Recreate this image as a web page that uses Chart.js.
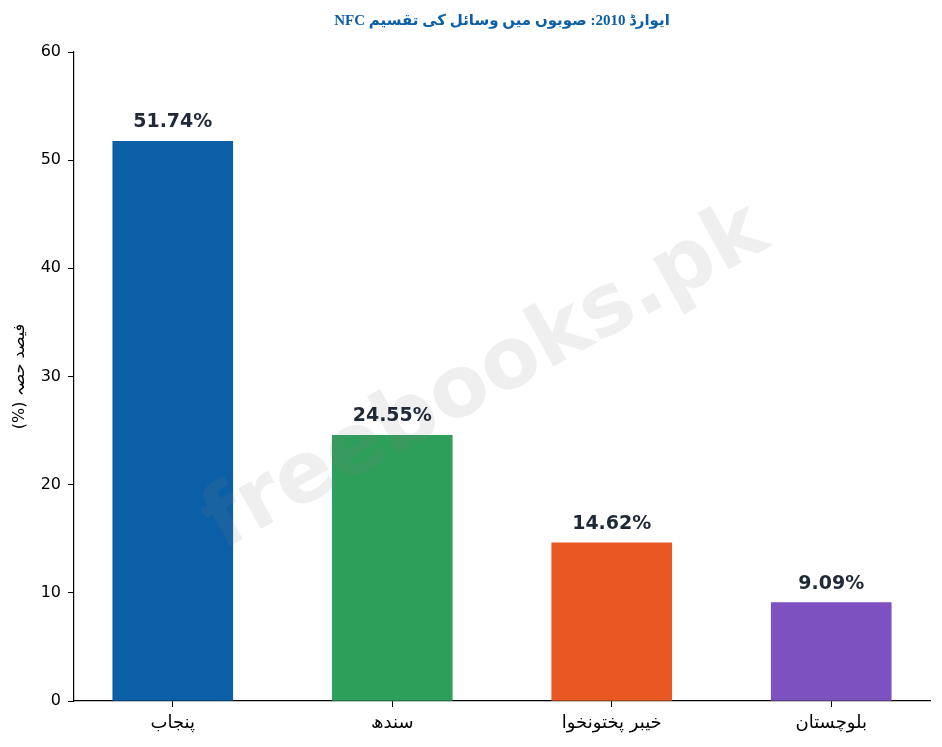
<!DOCTYPE html>
<html>
<head>
<meta charset="utf-8">
<script src="https://cdn.jsdelivr.net/npm/chart.js@4.4.1/dist/chart.umd.min.js"></script>
<style>
    html, body { margin: 0; padding: 0; background: #ffffff; }
    #wrap { width: 942px; height: 747px; }
</style>
</head>
<body>
<div id="wrap"><canvas id="nfcChart" width="942" height="747"></canvas></div>
<script>
// ============================================
// NFC AWARD 2010 - provincial shares
// ============================================

// Chart data
const provinces = ['پنجاب', 'سندھ', 'خیبر پختونخوا', 'بلوچستان'];
const shares = [51.74, 24.55, 14.62, 9.09];
const barColors = ['#0b5fa6', '#2e9e5b', '#e75822', '#7b52c0'];
const yTicks = [0, 10, 20, 30, 40, 50, 60];

const titleText = 'NFC ایوارڈ 2010: صوبوں میں وسائل کی تقسیم';
const yTitleText = '\u202Bفیصد حصہ (%)\u202C';
const watermarkText = 'freebooks.pk';

// Watermark + value labels on top of the bars
const overlayPlugin = {
    id: 'overlay',
    afterDatasetsDraw(chart) {
        const ctx = chart.ctx;
        const area = chart.chartArea;

        // watermark
        ctx.save();
        ctx.translate(area.left + 423, area.top + 346);
        ctx.rotate(-29 * Math.PI / 180);
        ctx.font = 'bold 85px "DejaVu Sans"';
        ctx.fillStyle = 'rgba(128, 128, 128, 0.13)';
        ctx.textAlign = 'center';
        ctx.textBaseline = 'alphabetic';
        ctx.fillText(watermarkText, 0, 0);
        ctx.restore();

        // value labels
        const meta = chart.getDatasetMeta(0);
        ctx.save();
        ctx.font = 'bold 19px "DejaVu Sans"';
        ctx.fillStyle = '#1f2937';
        ctx.textAlign = 'center';
        ctx.textBaseline = 'alphabetic';
        meta.data.forEach((bar, i) => {
            ctx.fillText(shares[i].toFixed(2) + '%', bar.x, bar.y - 14);
        });
        ctx.restore();
    }
};

const nfcChart = new Chart(document.getElementById('nfcChart'), {
    type: 'bar',
    data: {
        datasets: [{
            data: shares.map((v, i) => ({ x: i, y: v })),
            backgroundColor: barColors,
            borderWidth: 0,
            barThickness: 120
        }]
    },
    options: {
        responsive: false,
        animation: false,
        devicePixelRatio: 1,
        layout: {
            padding: { left: 0, right: 12, top: 0, bottom: 0 }
        },
        plugins: {
            legend: { display: false },
            tooltip: { enabled: false },
            title: {
                display: true,
                fullSize: false,
                text: titleText,
                color: '#0b5fa6',
                font: { family: '"Liberation Serif", "DejaVu Sans"', size: 15, weight: 'bold', lineHeight: 1.2 },
                padding: { top: 12, bottom: 22 }
            }
        },
        scales: {
            x: {
                type: 'linear',
                min: -0.45,
                max: 3.45,
                offset: false,
                afterBuildTicks(scale) {
                    scale.ticks = provinces.map((p, i) => ({ value: i }));
                },
                afterFit(scale) {
                    scale.height = 46;
                },
                ticks: {
                    autoSkip: false,
                    maxRotation: 0,
                    padding: 6,
                    color: '#000000',
                    font: { family: '"DejaVu Sans"', size: 18 },
                    callback: (value) => provinces[value]
                },
                grid: {
                    display: true,
                    offset: false,
                    drawOnChartArea: false,
                    drawTicks: true,
                    tickLength: 6,
                    color: '#000000'
                },
                border: { display: true, color: '#000000', width: 1.2 }
            },
            y: {
                min: 0,
                max: 60,
                afterBuildTicks(scale) {
                    scale.ticks = yTicks.map(v => ({ value: v }));
                },
                afterFit(scale) {
                    scale.width = 74;
                },
                ticks: {
                    padding: 7,
                    color: '#000000',
                    font: { family: '"DejaVu Sans"', size: 16 }
                },
                grid: {
                    display: true,
                    drawOnChartArea: false,
                    drawTicks: true,
                    tickLength: 6,
                    color: '#000000'
                },
                border: { display: true, color: '#000000', width: 1.2 },
                title: {
                    display: true,
                    text: yTitleText,
                    color: '#000000',
                    font: { family: '"DejaVu Sans"', size: 16 },
                    padding: { top: 10, bottom: 0 }
                }
            }
        }
    },
    plugins: [overlayPlugin]
});
</script>
</body>
</html>
